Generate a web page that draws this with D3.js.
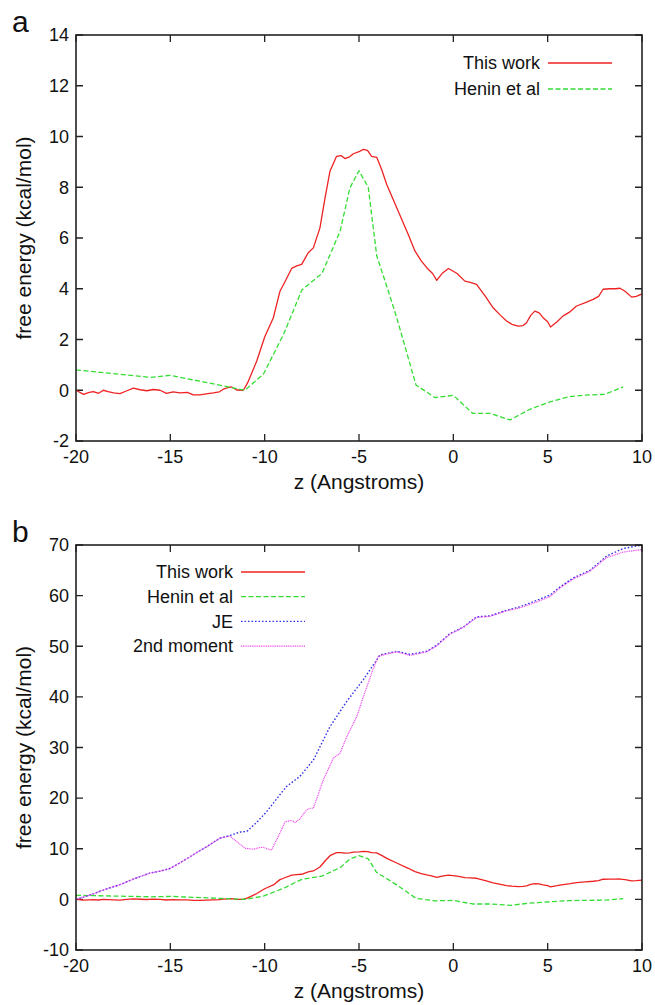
<!DOCTYPE html>
<html>
<head>
<meta charset="utf-8">
<script src="https://cdn.jsdelivr.net/npm/d3@7/dist/d3.min.js"></script>
<style>
  body { margin: 0; background: #fff; }
  svg { display: block; font-family: "Liberation Sans", Arial, sans-serif; }
  .tick-label { font-size: 18px; fill: #111; }
  .axis-title { font-size: 21px; fill: #111; }
  .legend-label { font-size: 18px; fill: #111; }
</style>
</head>
<body>
<svg id="chart" width="655" height="1005"></svg>
<script>
// z (Angstroms) vs free energy (kcal/mol)
const thisWork = [
  [-20,0],[-19.6,-0.16],[-19.3,-0.08],[-19.08,-0.05],[-18.8,-0.12],[-18.55,0],[-18.3,-0.05],
  [-18,-0.1],[-17.67,-0.13],[-17.3,-0.02],[-16.96,0.08],[-16.6,0.02],[-16.25,-0.02],[-15.9,0.03],
  [-15.55,0],[-15.2,-0.12],[-14.85,-0.06],[-14.49,-0.1],[-14.1,-0.08],[-13.78,-0.18],[-13.43,-0.18],
  [-13.1,-0.14],[-12.72,-0.1],[-12.4,-0.06],[-12.19,0.04],[-11.95,0.1],[-11.75,0.13],[-11.48,0.01],
  [-11.13,0],[-10.9,0.3],[-10.42,1.15],[-10,2.1],[-9.54,2.86],[-9.19,3.9],[-9,4.17],[-8.57,4.8],
  [-8.3,4.9],[-8.04,4.96],[-7.69,5.42],[-7.42,5.61],[-7.07,6.4],[-6.8,7.58],[-6.54,8.63],[-6.19,9.22],
  [-5.95,9.25],[-5.75,9.13],[-5.5,9.2],[-5.3,9.32],[-5,9.4],[-4.77,9.49],[-4.55,9.45],[-4.33,9.22],
  [-4.06,9.18],[-3.8,8.7],[-3.53,8.11],[-3,7.19],[-2.39,6.14],[-2.03,5.48],[-1.7,5.1],[-1.41,4.83],
  [-1.1,4.6],[-0.88,4.33],[-0.6,4.6],[-0.26,4.8],[0.2,4.6],[0.61,4.3],[0.9,4.25],[1.23,4.17],
  [1.7,3.7],[2.11,3.25],[2.5,2.95],[2.82,2.73],[3.1,2.6],[3.44,2.53],[3.7,2.55],[3.88,2.66],
  [4.1,2.95],[4.32,3.12],[4.55,3.05],[4.76,2.86],[5,2.7],[5.15,2.49],[5.5,2.7],[5.82,2.93],
  [6.2,3.1],[6.53,3.32],[7,3.45],[7.41,3.58],[7.7,3.7],[7.94,3.98],[8.3,4],[8.6,4],[8.83,4.02],
  [9.1,3.9],[9.45,3.67],[9.7,3.7],[10,3.8]
];
const henin = [
  [-20,0.8],[-16.05,0.51],[-15,0.59],[-11.05,0],[-10.07,0.63],[-9,2.2],[-8.03,3.95],[-6.97,4.6],
  [-6.53,5.35],[-6,6.27],[-5.48,7.98],[-5,8.65],[-4.51,8],[-4.06,5.3],[-3.53,4.1],[-3,2.86],
  [-1.98,0.21],[-0.97,-0.29],[0,-0.2],[1.02,-0.91],[1.94,-0.91],[3,-1.17],[4.06,-0.75],
  [5.12,-0.46],[6.09,-0.26],[6.97,-0.19],[8.03,-0.16],[9,0.13]
];
const je = [
  [-20,0],[-19.3,0.8],[-18.73,1.6],[-18.2,2.3],[-17.67,2.9],[-16.9,4.1],[-16.08,5.2],[-15.5,5.6],
  [-15.02,6.1],[-14.5,7.2],[-13.96,8.4],[-13.5,9.5],[-13.07,10.4],[-12.7,11.3],[-12.37,12.1],
  [-11.84,12.6],[-11.31,13.3],[-10.95,13.4],[-10.4,15.3],[-9.9,17.3],[-9.19,20.7],[-8.84,22.3],
  [-8.13,24.3],[-7.42,27.5],[-6.54,34.1],[-5.65,39.1],[-4.77,43.4],[-4.06,47.3],[-3.89,48.3],
  [-3.5,48.6],[-3,49],[-2.3,48.4],[-1.41,49],[-0.88,50.2],[-0.18,52.5],[0.53,53.8],[1.23,55.8],
  [1.94,56],[2.82,57.1],[3.53,57.8],[4.24,58.8],[5.12,60.1],[5.65,61.7],[6.36,63.5],[7.24,65],
  [8.12,67.8],[9,69.3],[10,70]
];
const secondMoment = [
  [-20,0],[-19.3,0.8],[-18.73,1.6],[-18.2,2.3],[-17.67,2.9],[-16.9,4.1],[-16.08,5.2],[-15.5,5.6],
  [-15.02,6.1],[-14.5,7.2],[-13.96,8.4],[-13.5,9.5],[-13.07,10.4],[-12.7,11.3],[-12.37,12.1],
  [-11.84,12.5],[-11.48,11.4],[-11.04,10.1],[-10.6,9.9],[-10.3,10.2],[-10.07,10.3],[-9.8,9.9],
  [-9.63,9.8],[-9.19,13.1],[-8.92,15.3],[-8.6,15.6],[-8.39,15.2],[-8.13,15.9],[-7.77,17.7],
  [-7.6,18],[-7.42,18],[-6.89,23.6],[-6.36,27.9],[-6,28.9],[-5.65,32.1],[-5.12,36.1],[-4.77,40],
  [-4.33,44.7],[-3.98,48],[-3.5,48.5],[-3,48.9],[-2.3,48.2],[-1.41,48.9],[-0.88,50.1],[-0.18,52.4],
  [0.53,53.7],[1.23,55.7],[1.94,55.9],[2.82,57],[3.53,57.6],[4.24,58.5],[5.12,59.8],[5.65,61.5],
  [6.36,63.3],[7.24,64.8],[8.12,67.5],[9,68.6],[10,69.1]
];

const xTicks = [-20, -15, -10, -5, 0, 5, 10];
const yTicksA = [-2, 0, 2, 4, 6, 8, 10, 12, 14];
const yTicksB = [-10, 0, 10, 20, 30, 40, 50, 60, 70];

const styles = {
  "This work":   { color: "#ee2222", dash: null,  width: 1.3 },
  "Henin et al": { color: "#33dd33", dash: "5,2.5", width: 1.3 },
  "JE":          { color: "#3636e6", dash: "1.6,1.9", width: 1.4 },
  "2nd moment":  { color: "#ee44ee", dash: "1,0.8", width: 1.2 }
};

const svg = d3.select("#chart");
const left = 76, right = 642;

function drawPanel(p) {
  const x = d3.scaleLinear().domain([-20, 10]).range([left, right]);
  const y = d3.scaleLinear().domain(p.yDomain).range([p.bottom, p.top]);
  const g = svg.append("g");
  const tick = 7;

  // ticks, inward on all four sides
  g.selectAll(".xt").data(p.xTicks).join("path")
    .attr("d", d => `M${x(d)},${p.bottom}v${-tick}M${x(d)},${p.top}v${tick}`)
    .attr("stroke", "#222").attr("stroke-width", 1.3);
  g.selectAll(".yt").data(p.yTicks).join("path")
    .attr("d", d => `M${left},${y(d)}h${tick}M${right},${y(d)}h${-tick}`)
    .attr("stroke", "#222").attr("stroke-width", 1.3);

  g.selectAll(".xl").data(p.xTicks).join("text")
    .attr("class", "tick-label")
    .attr("x", d => x(d)).attr("y", p.bottom + 22)
    .attr("text-anchor", "middle")
    .text(d => d);
  g.selectAll(".yl").data(p.yTicks).join("text")
    .attr("class", "tick-label")
    .attr("x", left - 7).attr("y", d => y(d))
    .attr("dy", "0.35em")
    .attr("text-anchor", "end")
    .text(d => d);

  const line = d3.line().x(d => x(d[0])).y(d => y(d[1]));
  p.series.forEach(s => {
    const st = styles[s.name];
    g.append("path")
      .datum(s.data)
      .attr("d", line)
      .attr("fill", "none")
      .attr("stroke", st.color)
      .attr("stroke-width", st.width)
      .attr("stroke-dasharray", st.dash)
      .attr("stroke-linejoin", "round");
  });

  // frame
  g.append("rect")
    .attr("x", left).attr("y", p.top)
    .attr("width", right - left).attr("height", p.bottom - p.top)
    .attr("fill", "none").attr("stroke", "#222").attr("stroke-width", 1.6);

  // legend
  p.series.forEach((s, i) => {
    const st = styles[s.name];
    const ly = p.legend.y + i * p.legend.step;
    g.append("text")
      .attr("class", "legend-label")
      .attr("x", p.legend.x).attr("y", ly)
      .attr("dy", "0.35em")
      .attr("text-anchor", "end")
      .text(s.name);
    g.append("line")
      .attr("x1", p.legend.x + 8).attr("x2", p.legend.x + 72)
      .attr("y1", ly).attr("y2", ly)
      .attr("stroke", st.color)
      .attr("stroke-width", st.width)
      .attr("stroke-dasharray", st.dash);
  });

  g.append("text")
    .attr("class", "axis-title")
    .attr("x", (left + right) / 2).attr("y", p.bottom + 48)
    .attr("text-anchor", "middle")
    .text("z (Angstroms)");
  g.append("text")
    .attr("class", "axis-title")
    .attr("transform", `translate(31,${(p.top + p.bottom) / 2}) rotate(-90)`)
    .attr("text-anchor", "middle")
    .text("free energy (kcal/mol)");

  g.append("text")
    .attr("x", 12).attr("y", p.top - 3)
    .style("font-size", "30px").attr("fill", "#111")
    .text(p.label);
}

drawPanel({
  label: "a", top: 35, bottom: 441, yDomain: [-2, 14],
  xTicks: xTicks, yTicks: yTicksA,
  legend: { x: 540, y: 63, step: 26 },
  series: [
    { name: "This work", data: thisWork },
    { name: "Henin et al", data: henin }
  ]
});

drawPanel({
  label: "b", top: 545, bottom: 950, yDomain: [-10, 70],
  xTicks: xTicks, yTicks: yTicksB,
  legend: { x: 233, y: 572, step: 24.7 },
  series: [
    { name: "This work", data: thisWork },
    { name: "Henin et al", data: henin },
    { name: "JE", data: je },
    { name: "2nd moment", data: secondMoment }
  ]
});
</script>
</body>
</html>
